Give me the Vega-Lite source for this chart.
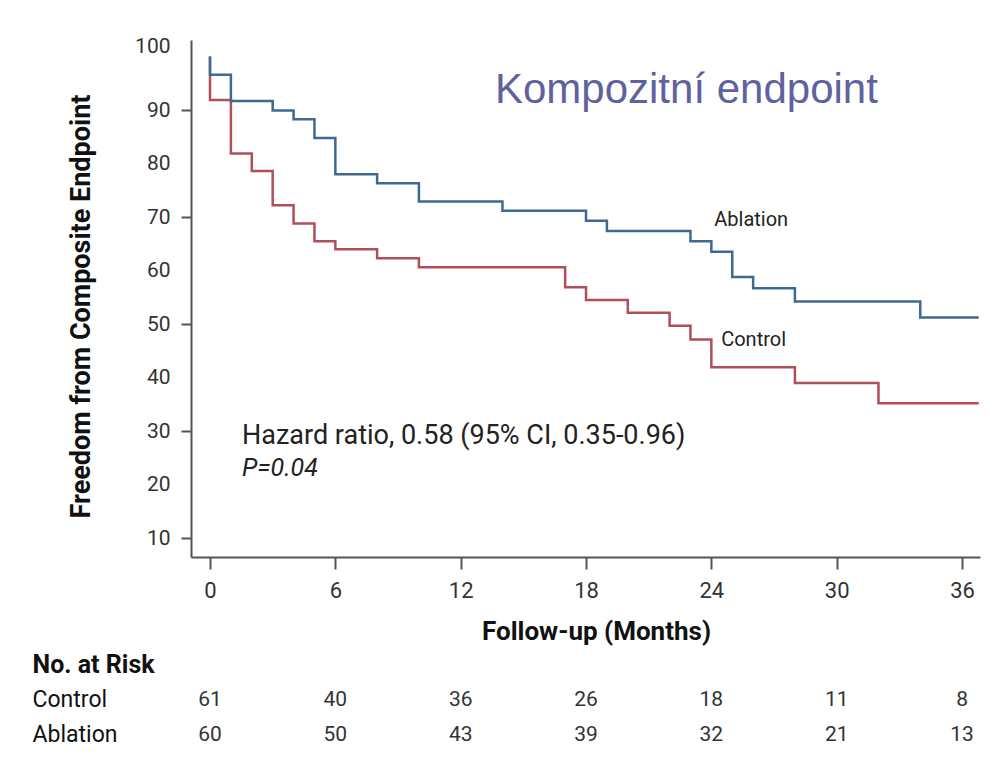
{
  "$schema": "https://vega.github.io/schema/vega-lite/v6.json",
  "background": "white",
  "padding": {"left": 32, "top": 35, "right": 19, "bottom": 10},
  "spacing": 3,
  "config": {"view": {"stroke": null}, "font": "Roboto"},
  "datasets": {
    "curves": [
      {"group": "Control", "month": 0, "value": 100},
      {"group": "Control", "month": 0, "value": 91.9},
      {"group": "Control", "month": 1, "value": 81.9},
      {"group": "Control", "month": 2, "value": 78.6},
      {"group": "Control", "month": 3, "value": 72.2},
      {"group": "Control", "month": 4, "value": 68.8},
      {"group": "Control", "month": 5, "value": 65.5},
      {"group": "Control", "month": 6, "value": 64.0},
      {"group": "Control", "month": 8, "value": 62.3},
      {"group": "Control", "month": 10, "value": 60.6},
      {"group": "Control", "month": 17, "value": 56.9},
      {"group": "Control", "month": 18, "value": 54.5},
      {"group": "Control", "month": 20, "value": 52.1},
      {"group": "Control", "month": 22, "value": 49.7},
      {"group": "Control", "month": 23, "value": 47.1},
      {"group": "Control", "month": 24, "value": 41.9},
      {"group": "Control", "month": 28, "value": 39.0},
      {"group": "Control", "month": 32, "value": 35.2},
      {"group": "Control", "month": 36.8, "value": 35.2},
      {"group": "Ablation", "month": 0, "value": 100},
      {"group": "Ablation", "month": 0, "value": 96.6},
      {"group": "Ablation", "month": 1, "value": 91.7},
      {"group": "Ablation", "month": 3, "value": 89.9},
      {"group": "Ablation", "month": 4, "value": 88.3},
      {"group": "Ablation", "month": 5, "value": 84.8},
      {"group": "Ablation", "month": 6, "value": 78.0},
      {"group": "Ablation", "month": 8, "value": 76.3},
      {"group": "Ablation", "month": 10, "value": 72.9},
      {"group": "Ablation", "month": 14, "value": 71.2},
      {"group": "Ablation", "month": 18, "value": 69.3},
      {"group": "Ablation", "month": 19, "value": 67.4},
      {"group": "Ablation", "month": 23, "value": 65.5},
      {"group": "Ablation", "month": 24, "value": 63.5},
      {"group": "Ablation", "month": 25, "value": 58.8},
      {"group": "Ablation", "month": 26, "value": 56.7},
      {"group": "Ablation", "month": 28, "value": 54.2},
      {"group": "Ablation", "month": 34, "value": 51.2},
      {"group": "Ablation", "month": 36.8, "value": 51.2}
    ],
    "notes": [
      {"role": "title", "label": "Kompozitní endpoint", "month": 13.64, "value": 93.75},
      {"role": "curve", "label": "Ablation", "month": 24.14, "value": 69.45},
      {"role": "curve", "label": "Control", "month": 24.47, "value": 47.0},
      {"role": "hr", "label": "Hazard ratio, 0.58 (95% CI, 0.35-0.96)", "month": 1.53, "value": 29.0},
      {"role": "p", "label": "P=0.04", "month": 1.53, "value": 23.0}
    ],
    "risk": [
      {"group": "Control", "month": 0, "n": 61},
      {"group": "Control", "month": 6, "n": 40},
      {"group": "Control", "month": 12, "n": 36},
      {"group": "Control", "month": 18, "n": 26},
      {"group": "Control", "month": 24, "n": 18},
      {"group": "Control", "month": 30, "n": 11},
      {"group": "Control", "month": 36, "n": 8},
      {"group": "Ablation", "month": 0, "n": 60},
      {"group": "Ablation", "month": 6, "n": 50},
      {"group": "Ablation", "month": 12, "n": 43},
      {"group": "Ablation", "month": 18, "n": 39},
      {"group": "Ablation", "month": 24, "n": 32},
      {"group": "Ablation", "month": 30, "n": 21},
      {"group": "Ablation", "month": 36, "n": 13}
    ]
  },
  "vconcat": [
    {
      "width": 789,
      "height": 517,
      "encoding": {
        "x": {
          "field": "month", "type": "quantitative",
          "scale": {"domain": [-0.91, 36.86], "nice": false, "zero": false},
          "axis": {
            "values": [0, 6, 12, 18, 24, 30, 36],
            "grid": false,
            "domainColor": "#555", "domainWidth": 2,
            "tickColor": "#555", "tickWidth": 2, "tickSize": 12,
            "labelFontSize": 22, "labelColor": "#333", "labelPadding": 11,
            "title": "Follow-up (Months)",
            "titleFontSize": 26, "titleFontWeight": "bold", "titleColor": "#111",
            "titlePadding": 17, "titleX": 405
          }
        },
        "y": {
          "field": "value", "type": "quantitative",
          "scale": {"domain": [6.45, 103.1], "nice": false, "zero": false},
          "axis": {
            "values": [10, 20, 30, 40, 50, 60, 70, 80, 90, 100],
            "grid": false,
            "domainColor": "#555", "domainWidth": 2,
            "tickColor": "#555", "tickWidth": 2, "tickSize": 10,
            "tickOpacity": {"condition": {"test": "datum.value % 20 == 10", "value": 1}, "value": 0},
            "labelOffset": {"condition": {"test": "datum.value == 100", "value": -10}, "value": 0},
            "labelFontSize": 21, "labelColor": "#333", "labelPadding": 11,
            "title": "Freedom from Composite Endpoint",
            "titleFontSize": 27, "titleFontWeight": "bold", "titleColor": "#111",
            "titlePadding": 39, "titleY": 266
          }
        }
      },
      "layer": [
        {
          "data": {"name": "curves"},
          "mark": {"type": "line", "interpolate": "step-after", "strokeWidth": 2.5},
          "encoding": {
            "color": {
              "field": "group", "type": "nominal",
              "scale": {"domain": ["Control", "Ablation"], "range": ["#b04f5a", "#3e6a91"]},
              "legend": null
            },
            "order": {"value": null}
          }
        },
        {
          "data": {"name": "notes"},
          "transform": [{"filter": "datum.role == 'title'"}],
          "mark": {"type": "text", "align": "left", "baseline": "middle", "font": "Liberation Sans", "fontSize": 42, "color": "#5f629e"},
          "encoding": {"text": {"field": "label"}}
        },
        {
          "data": {"name": "notes"},
          "transform": [{"filter": "datum.role == 'curve'"}],
          "mark": {"type": "text", "align": "left", "baseline": "middle", "fontSize": 20, "color": "#222"},
          "encoding": {"text": {"field": "label"}}
        },
        {
          "data": {"name": "notes"},
          "transform": [{"filter": "datum.role == 'hr'"}],
          "mark": {"type": "text", "align": "left", "baseline": "middle", "fontSize": 27, "color": "#222"},
          "encoding": {"text": {"field": "label"}}
        },
        {
          "data": {"name": "notes"},
          "transform": [{"filter": "datum.role == 'p'"}],
          "mark": {"type": "text", "align": "left", "baseline": "middle", "fontSize": 25, "fontStyle": "italic", "color": "#222"},
          "encoding": {"text": {"field": "label"}}
        }
      ]
    },
    {
      "width": 789,
      "height": 105,
      "data": {"name": "risk"},
      "mark": {"type": "text", "fontSize": 21, "color": "#333"},
      "encoding": {
        "x": {
          "field": "month", "type": "quantitative",
          "scale": {"domain": [-0.91, 36.86], "nice": false, "zero": false},
          "axis": null
        },
        "y": {
          "field": "group", "type": "nominal",
          "scale": {"domain": ["No. at Risk", "Control", "Ablation"]},
          "axis": {
            "domain": false, "ticks": false, "grid": false,
            "labelAlign": "left", "labelPadding": 159,
            "labelColor": "#111",
            "labelFontWeight": {"condition": {"test": "datum.value == 'No. at Risk'", "value": "bold"}, "value": "normal"},
            "labelFontSize": {"condition": {"test": "datum.value == 'No. at Risk'", "value": 25}, "value": 23},
            "title": null
          }
        },
        "text": {"field": "n", "type": "quantitative"}
      }
    }
  ]
}
